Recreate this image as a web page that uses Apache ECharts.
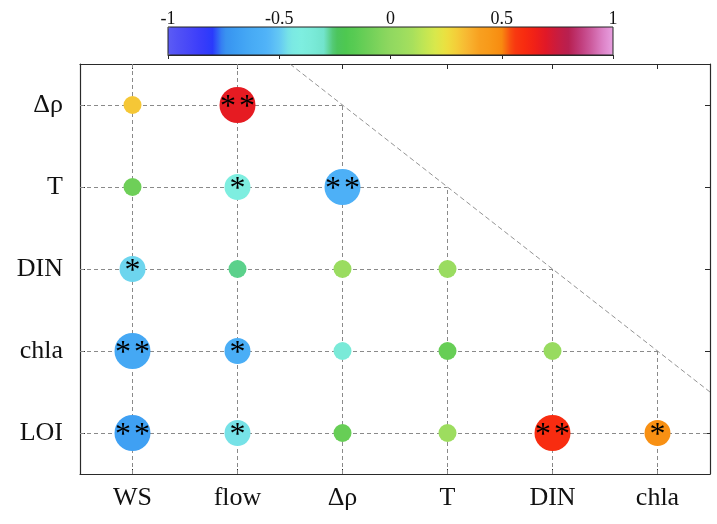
<!DOCTYPE html>
<html><head><meta charset="utf-8">
<script src="https://cdn.jsdelivr.net/npm/echarts@6/dist/echarts.min.js"></script>
<style>html,body{margin:0;padding:0;background:#fff}#c{width:717px;height:524px}</style>
</head><body><div id="c"></div>
<script>
// Columns (x) and rows (y, bottom to top)
const cols = ['WS', 'flow', 'Δρ', 'T', 'DIN', 'chla'];
const rows = ['LOI', 'chla', 'DIN', 'T', 'Δρ'];

// Correlation coefficients per row (left to right, lower triangle)
const corrLOI  = [-0.68, -0.46, -0.12, 0.06, 0.60, 0.48];
const corrChla = [-0.64, -0.60, -0.35, -0.12, 0.04];
const corrDIN  = [-0.48, -0.27, 0.05, 0.05];
const corrT    = [-0.10, -0.40, -0.58];
const corrDrho = [0.31, 0.68];

// Significance marks per row
const sigLOI  = ['**', '*', '', '', '**', '*'];
const sigChla = ['**', '*', '', '', ''];
const sigDIN  = ['*', '', '', ''];
const sigT    = ['', '*', '**'];
const sigDrho = ['', '**'];

// Colour bar ticks
const cbTicks = [-1, -0.5, 0, 0.5, 1];
const cbColors = ['#5c5cf4','#5050f6','#4646f8','#3a3cfa','#2a3afc','#3890f0','#3c9cf2','#44a6f4','#4aaef6','#52b4f8',
  '#64c8f4','#7ae8e4','#7eeee0','#7aead8','#72e4cc','#4cc460','#4ec850','#5ccc54','#6ecf58','#80d45c',
  '#90d860','#9adc60','#a8e05c','#c0e654','#d8e84c','#ece040','#f4cc38','#f8b430','#f8a020','#f89818',
  '#f88a10','#f83c10','#f82c10','#f02018','#e01828','#c81c40','#b82050','#c03a78','#cc5a9c','#dc80c4','#e8a0e0'];

const corrRows = [corrLOI, corrChla, corrDIN, corrT, corrDrho];
const sigRows = [sigLOI, sigChla, sigDIN, sigT, sigDrho];
const sizeBySig = {'': 18, '*': 26, '**': 36};

const scatterData = [];
corrRows.forEach((vals, r) => {
  vals.forEach((v, c) => {
    const s = sigRows[r][c];
    scatterData.push({
      value: [c, r, v],
      symbolSize: sizeBySig[s],
      label: {formatter: s.split('').map(() => '{s|*}').join('')}
    });
  });
});

// Partial grid lines (lower triangle) and diagonal
const nC = cols.length, nR = rows.length;
const gridLines = [];
for (let r = 0; r < nR; r++) gridLines.push({coords: [[-0.5, r], [Math.min(nC - r, nC - 0.5), r]]});
for (let c = 0; c < nC; c++) gridLines.push({coords: [[c, -0.5], [c, Math.min(nC - c, nR - 0.5)]]});
const diagLine = [{coords: [[nC - nR + 0.5, nR - 0.5], [nC - 0.5, 0.5]]}];

const serif = 'Liberation Serif';
const axisCol = '#2a2a2a';
const tickCfg = {show: true, inside: true, alignWithLabel: true, length: 5, lineStyle: {color: axisCol}};

const chart = echarts.init(document.getElementById('c'));
chart.setOption({
  animation: false,
  backgroundColor: '#fff',
  grid: [
    {left: 80, top: 64, width: 630, height: 410, containLabel: false},
    {left: 168, top: 27, width: 445, height: 28, show: true, borderColor: '#222', borderWidth: 1, backgroundColor: 'transparent', z: 10}
  ],
  xAxis: [
    {type: 'value', gridIndex: 0, min: -0.5, max: nC - 0.5, show: false},
    {type: 'category', gridIndex: 0, data: cols, position: 'bottom', boundaryGap: true,
     axisLine: {lineStyle: {color: axisCol, width: 1.2}}, axisTick: tickCfg,
     axisLabel: {fontFamily: serif, fontSize: 26, color: '#111', margin: 11}, splitLine: {show: false}},
    {type: 'category', gridIndex: 0, data: cols, position: 'top', boundaryGap: true,
     axisLine: {lineStyle: {color: axisCol, width: 1.2}}, axisTick: tickCfg,
     axisLabel: {show: false}, splitLine: {show: false}},
    {type: 'value', gridIndex: 1, min: cbTicks[0], max: cbTicks[cbTicks.length - 1], interval: 0.5, position: 'top', z: 10,
     axisLine: {show: true, lineStyle: {color: axisCol}},
     axisTick: {show: true, inside: true, length: 4, lineStyle: {color: axisCol}},
     axisLabel: {fontFamily: serif, fontSize: 18, color: '#111', margin: -1}, splitLine: {show: false}}
  ],
  yAxis: [
    {type: 'value', gridIndex: 0, min: -0.5, max: nR - 0.5, show: false},
    {type: 'category', gridIndex: 0, data: rows, position: 'left', boundaryGap: true,
     axisLine: {lineStyle: {color: axisCol, width: 1.2}}, axisTick: tickCfg,
     axisLabel: {fontFamily: serif, fontSize: 26, color: '#111', margin: 17}, splitLine: {show: false}},
    {type: 'category', gridIndex: 0, data: rows, position: 'right', boundaryGap: true,
     axisLine: {lineStyle: {color: axisCol, width: 1.2}}, axisTick: tickCfg,
     axisLabel: {show: false}, splitLine: {show: false}},
    {type: 'value', gridIndex: 1, min: 0, max: 1, show: false}
  ],
  visualMap: {
    type: 'continuous', min: -1, max: 1, dimension: 2, seriesIndex: 2,
    orient: 'horizontal', left: 168, top: 27, itemWidth: 28, itemHeight: 445,
    calculable: false, hoverLink: false, padding: 0, text: null, showLabel: false,
    inRange: {color: cbColors}
  },
  series: [
    {type: 'lines', coordinateSystem: 'cartesian2d', xAxisIndex: 0, yAxisIndex: 0, silent: true, z: 1,
     lineStyle: {color: '#8a8a8a', width: 1, type: [4, 3], opacity: 1}, data: gridLines},
    {type: 'lines', coordinateSystem: 'cartesian2d', xAxisIndex: 0, yAxisIndex: 0, silent: true, z: 1,
     lineStyle: {color: '#777', width: 0.8, type: [5, 3], opacity: 1}, data: diagLine},
    {type: 'scatter', xAxisIndex: 0, yAxisIndex: 0, z: 3, data: scatterData,
     itemStyle: {opacity: 1},
     label: {show: true, position: 'inside', offset: [0, 3],
       rich: {s: {color: '#000', fontFamily: serif, fontSize: 32, padding: [0, 1.5]}}}}
  ]
});
</script>
</body></html>
